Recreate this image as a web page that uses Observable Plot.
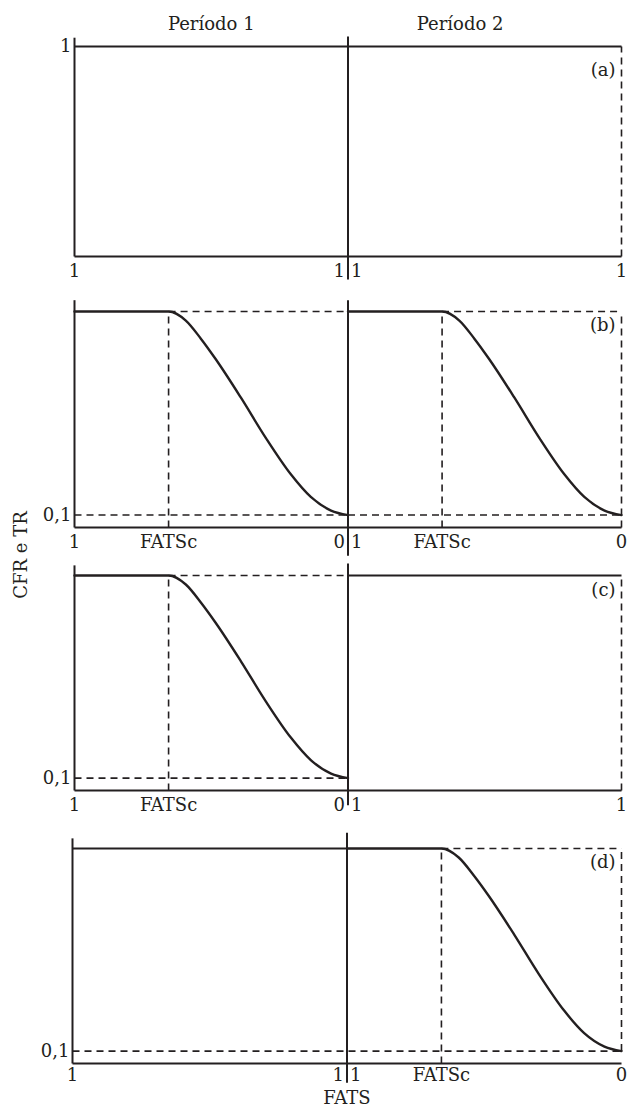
<!DOCTYPE html>
<html><head><meta charset="utf-8">
<script src="https://cdn.jsdelivr.net/npm/d3@7"></script>
<script src="https://cdn.jsdelivr.net/npm/@observablehq/plot@0.6"></script>
<style>
body{margin:0;background:#fff;}
#wrap{position:relative;width:630px;height:1113px;overflow:hidden;font-family:"DejaVu Serif",serif;color:#231f20;background:#fff;}
#ylab{position:absolute;left:20px;top:555px;transform:translate(-50%,-50%) rotate(-90deg);font-size:18px;white-space:nowrap;}
</style></head>
<body><div id="wrap"><div id="ylab">CFR e TR</div></div>
<script>
// ---- data ----
const periods = ["Período 1", "Período 2"];
const periodX = [0.5, 1.41];
const curveFATS = [1, 0.656, 0.593, 0.538, 0.484, 0.392, 0.300, 0.209, 0.136, 0.062, 0];
const curveCFR  = [1, 1,     0.96,  0.88,  0.79,  0.62,  0.44,  0.28,  0.18,  0.12,  0.1];
const fatsc = 0.656;
const cfrMax = 1, cfrMin = 0.1;
const axisBase = 0.045;
const panelNames = ["(a)", "(b)", "(c)", "(d)"];
const tickPosA = [0, 1, 1, 2],              tickTextA = ["1", "1", "1", "1"];
const tickPosB = [0, 1 - fatsc, 1, 1, 2 - fatsc, 2], tickTextB = ["1", "FATSc", "0", "1", "FATSc", "0"];
const tickPosC = [0, 1 - fatsc, 1, 1, 2],   tickTextC = ["1", "FATSc", "0", "1", "1"];
const tickPosD = [0, 1, 1, 2 - fatsc, 2],   tickTextD = ["1", "1", "1", "FATSc", "0"];
const xTitle = "FATS";

// ---- helpers ----
const ink = "#231f20";
const wrap = document.getElementById("wrap");
const curve = (offset) => curveFATS.map((f, i) => ({x: offset + 1 - f, y: curveCFR[i]}));
const seg = (x1, y1, x2, y2) => ({x1, y1, x2, y2});

function ticks(pos, text, dy = 15) {
  const rows = pos.map((p, i) => {
    let anchor = "middle";
    if (p === 1 && pos[i + 1] === 1) anchor = "end";
    else if (p === 1 && pos[i - 1] === 1) anchor = "start";
    return {x: p, text: text[i], anchor};
  });
  return ["start", "middle", "end"].map(a =>
    Plot.text(rows.filter(r => r.anchor === a), {
      x: "x", text: "text", frameAnchor: "bottom", textAnchor: a,
      dx: a === "end" ? -3 : a === "start" ? 3 : 0, dy, lineAnchor: "middle", fill: ink
    }));
}

function panel({top, height, marginTop, marginBottom, marginLeft = 74, solid, dashed, curves, ticksMarks, name, nameDy, lowLabel, extra = []}) {
  const marks = [
    Plot.link(dashed, {x1: "x1", y1: "y1", x2: "x2", y2: "y2", stroke: ink, strokeWidth: 1.6, strokeDasharray: "7,5"}),
    Plot.link(solid, {x1: "x1", y1: "y1", x2: "x2", y2: "y2", stroke: ink, strokeWidth: 2}),
    ...curves.map(c => Plot.line(c, {x: "x", y: "y", curve: "monotone-x", stroke: ink, strokeWidth: 2.4})),
    ...ticksMarks,
    Plot.text([name], {x: 2, y: cfrMax, text: d => d, textAnchor: "end", dx: -6, dy: nameDy, fill: ink}),
    Plot.text([lowLabel], {x: 0, y: d => d.v, text: d => d.t, textAnchor: "end", dx: -3, fill: ink}),
    ...extra
  ];
  const svg = Plot.plot({
    width: 630, height, marginTop, marginBottom, marginLeft, marginRight: 9,
    x: {domain: [0, 2], axis: null},
    y: {domain: [axisBase, cfrMax], axis: null},
    style: {fontFamily: "'DejaVu Serif', serif", fontSize: "18px", background: "transparent", overflow: "visible", color: ink},
    marks
  });
  svg.style.position = "absolute";
  svg.style.top = top + "px";
  svg.style.left = "0px";
  wrap.appendChild(svg);
}

// (a)
panel({
  top: 0, height: 290, marginTop: 46, marginBottom: 34,
  solid: [seg(0, axisBase, 0, 1.04), seg(0, axisBase, 2, axisBase), seg(1, -0.06, 1, 1.045), seg(0, cfrMax, 2, cfrMax)],
  dashed: [seg(2, axisBase, 2, cfrMax)],
  curves: [],
  ticksMarks: ticks(tickPosA, tickTextA),
  name: panelNames[0], nameDy: 24,
  lowLabel: {v: cfrMax, t: "1"},
  extra: [Plot.text(periods, {x: (d, i) => periodX[i], y: cfrMax, text: d => d, dy: -22, fill: ink})]
});

// (b)
panel({
  top: 290, height: 270, marginTop: 21, marginBottom: 33,
  solid: [seg(0, axisBase, 0, 1.05), seg(0, axisBase, 2, axisBase), seg(1, -0.08, 1, 1.05)],
  dashed: [seg(1 - fatsc, cfrMax, 1, cfrMax), seg(0, cfrMin, 1, cfrMin), seg(1 - fatsc, axisBase, 1 - fatsc, cfrMax),
           seg(2 - fatsc, cfrMax, 2, cfrMax), seg(1, cfrMin, 2, cfrMin), seg(2 - fatsc, axisBase, 2 - fatsc, cfrMax),
           seg(2, axisBase, 2, cfrMax)],
  curves: [curve(0), curve(1)],
  ticksMarks: ticks(tickPosB, tickTextB),
  name: panelNames[1], nameDy: 14,
  lowLabel: {v: cfrMin, t: "0,1"}
});

// (c)
panel({
  top: 560, height: 265, marginTop: 15, marginBottom: 35,
  solid: [seg(0, axisBase, 0, 1.045), seg(0, axisBase, 2, axisBase), seg(1, -0.02, 1, 1.053), seg(1, cfrMax, 2, cfrMax)],
  dashed: [seg(1 - fatsc, cfrMax, 1, cfrMax), seg(0, cfrMin, 1, cfrMin), seg(1 - fatsc, axisBase, 1 - fatsc, cfrMax),
           seg(2, axisBase, 2, cfrMax)],
  curves: [curve(0)],
  ticksMarks: ticks(tickPosC, tickTextC),
  name: panelNames[2], nameDy: 15,
  lowLabel: {v: cfrMin, t: "0,1"}
});

// (d)
panel({
  top: 825, height: 288, marginTop: 23, marginBottom: 50, marginLeft: 72,
  solid: [seg(0, axisBase, 0, 1.045), seg(0, axisBase, 2, axisBase), seg(1, -0.04, 1, 1.07), seg(0, cfrMax, 1, cfrMax)],
  dashed: [seg(2 - fatsc, cfrMax, 2, cfrMax), seg(0, cfrMin, 2, cfrMin), seg(2 - fatsc, axisBase, 2 - fatsc, cfrMax),
           seg(2, cfrMin, 2, cfrMax)],
  curves: [curve(1)],
  ticksMarks: ticks(tickPosD, tickTextD, 12),
  name: panelNames[3], nameDy: 14,
  lowLabel: {v: cfrMin, t: "0,1"},
  extra: [Plot.text([xTitle], {x: 1, text: d => d, frameAnchor: "bottom", dy: 40, fill: ink})]
});
</script>
</body></html>
